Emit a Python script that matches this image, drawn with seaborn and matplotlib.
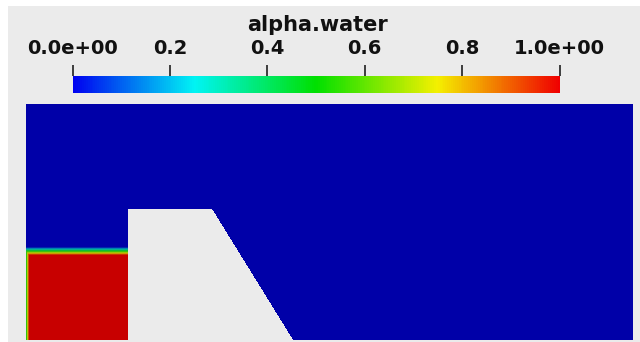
import numpy as np
import pandas as pd
import matplotlib
matplotlib.use("Agg")
import matplotlib.pyplot as plt
from matplotlib.colors import LinearSegmentedColormap, Normalize
from matplotlib.cm import ScalarMappable
from matplotlib.patches import Rectangle
import seaborn as sns

sns.set_style("white")
plt.rcParams["font.family"] = ["DejaVu Sans"]

# --- field / geometry (domain height = 1.0) ---
domain_length = 2.57
domain_height = 1.0
water_height = 0.36            # top of the fully-wet column
interface_thickness = 0.034    # smeared alpha band above the column
wall_layer = 0.013             # smeared layer along the left wall
obstacle_x = [0.432, 0.432, 0.788, 1.131]
obstacle_y = [0.0, 0.555, 0.555, 0.0]

# colour bar
bar_title = "alpha.water"
tick_values = [0.0, 0.2, 0.4, 0.6, 0.8, 1.0]
tick_labels = ["0.0e+00", "0.2", "0.4", "0.6", "0.8", "1.0e+00"]

# --- build alpha field on a cell grid ---
nx, ny = 607, 236
xc = (np.arange(nx) + 0.5) / nx * domain_length
yc = (np.arange(ny) + 0.5) / ny * domain_height
X, Y = np.meshgrid(xc, yc)

column_width = obstacle_x[0]
vert = np.clip((water_height + interface_thickness - Y) / interface_thickness, 0, 1)
wall = np.clip(0.45 + 0.55 * X / wall_layer, 0, 1)
alpha = np.where(X < column_width, np.minimum(vert, wall), 0.0)

top = obstacle_y[1]
x_right = obstacle_x[3] - (obstacle_x[3] - obstacle_x[2]) * Y / top
solid = (X >= obstacle_x[0]) & (Y <= top) & (X <= x_right)

# heatmap rows run top to bottom
field = pd.DataFrame(alpha[::-1])
mask = solid[::-1]

bg = "#ebebeb"
W, H = 640, 342
fig = plt.figure(figsize=(W / 100, H / 100), dpi=100, facecolor="white")
fig.patches.append(Rectangle((8 / W, 0), 1 - 8 / W, 1 - 6 / H,
                             transform=fig.transFigure, facecolor=bg,
                             edgecolor="none", zorder=-10))

# lit surface colours (darker) and unlit colour-bar colours
field_cmap = LinearSegmentedColormap.from_list(
    "field", ["#0000a8", "#00b0b4", "#10c010", "#d0c800", "#c80000"])
bar_cmap = LinearSegmentedColormap.from_list(
    "bar", ["#0000f0", "#00f4f4", "#00e000", "#f4f000", "#f00000"])

ax = fig.add_axes([26 / W, 2 / H, 607 / W, 236 / H])
ax.set_facecolor(bg)
sns.heatmap(field, mask=mask, cmap=field_cmap, vmin=0, vmax=1, cbar=False,
            xticklabels=False, yticklabels=False, ax=ax, rasterized=True)
ax.set_xlabel("")
ax.set_ylabel("")

cax = fig.add_axes([72.5 / W, (H - 93) / H, 487 / W, 17 / H])
cb = fig.colorbar(ScalarMappable(norm=Normalize(0, 1), cmap=bar_cmap),
                  cax=cax, orientation="horizontal")
cb.outline.set_visible(False)
cax.xaxis.set_ticks_position("top")
cax.xaxis.set_label_position("top")
cb.set_ticks(tick_values)
cb.set_ticklabels(tick_labels)
cax.tick_params(axis="x", direction="out", length=8, width=1.2, color="#202020",
                pad=5, labelsize=14, labelcolor="#111111")
for lbl in cax.get_xticklabels():
    lbl.set_fontweight("bold")

fig.text(318 / W, 1 - 25 / H, bar_title, ha="center", va="center",
         fontsize=15, fontweight="bold", color="#111111")

fig.savefig("out.png", dpi=100, facecolor=fig.get_facecolor())
